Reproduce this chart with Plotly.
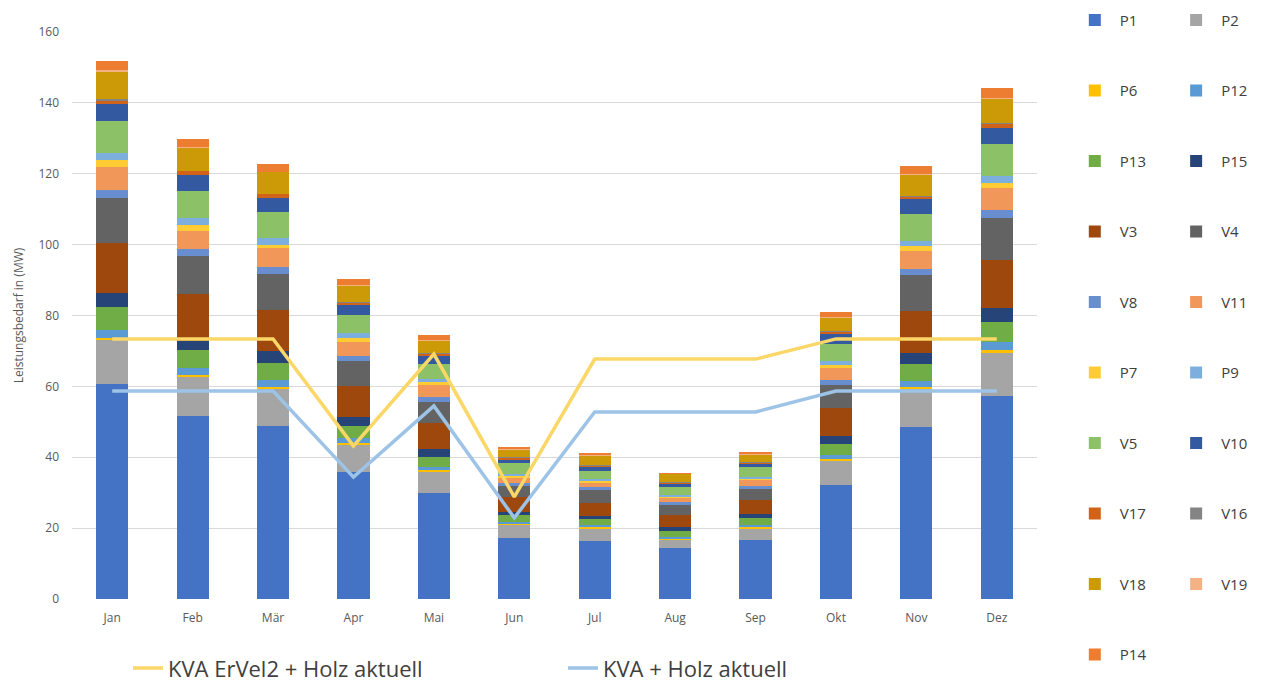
import plotly.graph_objects as go

months = ["Jan", "Feb", "Mär", "Apr", "Mai", "Jun", "Jul", "Aug", "Sep", "Okt", "Nov", "Dez"]

# stacked series, bottom to top
P1  = [60.8, 51.6, 48.8, 35.7, 29.8, 17.1, 16.4, 14.3, 16.6, 32.2, 48.6, 57.4]
P2  = [12.3, 11.0, 10.4, 7.8, 6.0, 3.9, 3.6, 2.5, 3.4, 6.9, 10.6, 12.1]
P6  = [0.5, 0.6, 0.7, 0.6, 0.6, 0.3, 0.2, 0.4, 0.4, 0.3, 0.6, 0.7]
P12 = [2.4, 1.9, 1.9, 1.2, 0.9, 0.5, 0.7, 0.4, 0.5, 1.2, 1.7, 2.3]
P13 = [6.3, 5.2, 4.7, 3.5, 2.9, 1.9, 1.6, 1.7, 1.9, 3.1, 4.7, 5.6]
P15 = [4.0, 2.6, 3.5, 2.6, 2.0, 0.9, 0.9, 0.9, 1.2, 2.3, 3.3, 4.0]
V3  = [14.1, 13.2, 11.5, 8.7, 7.4, 4.3, 3.8, 3.6, 3.9, 7.8, 11.7, 13.5]
V4  = [12.7, 10.7, 10.2, 7.1, 6.1, 3.0, 3.6, 2.8, 3.1, 6.6, 10.1, 12.0]
V8  = [2.4, 2.0, 2.1, 1.5, 1.2, 0.7, 0.7, 0.9, 0.9, 1.4, 1.9, 2.1]
V11 = [6.4, 5.1, 5.2, 3.9, 3.5, 1.6, 1.4, 1.2, 1.7, 3.3, 4.9, 6.4]
P7  = [2.0, 1.6, 0.9, 1.0, 0.7, 0.5, 0.5, 0.3, 0.4, 0.9, 1.4, 1.4]
P9  = [1.9, 1.9, 1.9, 1.4, 0.9, 0.6, 0.6, 0.4, 0.5, 1.2, 1.4, 1.8]
V5  = [9.0, 7.8, 7.3, 5.1, 4.2, 3.0, 2.2, 2.3, 2.7, 4.9, 7.8, 9.0]
V10 = [4.9, 4.4, 4.1, 2.9, 2.4, 1.2, 1.3, 0.9, 1.1, 2.6, 4.1, 4.7]
V17 = [1.1, 1.2, 1.1, 0.6, 0.7, 0.4, 0.3, 0.3, 0.3, 0.7, 0.9, 1.3]
V16 = [0.2, 0.1, 0.1, 0.1, 0.1, 0.1, 0.1, 0.1, 0.1, 0.1, 0.1, 0.1]
V18 = [7.9, 6.5, 6.1, 4.7, 3.5, 2.2, 2.7, 2.3, 2.2, 4.0, 6.0, 6.9]
V19 = [0.3, 0.1, 0.1, 0.1, 0.1, 0.1, 0.1, 0.0, 0.1, 0.1, 0.1, 0.1]
P14 = [2.7, 2.3, 2.2, 1.8, 1.4, 0.7, 0.3, 0.1, 0.6, 1.3, 2.4, 2.8]

kva_ervel2 = [73.4, 73.4, 73.4, 43.2, 69.1, 28.8, 67.7, 67.7, 67.7, 73.4, 73.4, 73.4]
kva_holz   = [58.7, 58.7, 58.7, 34.4, 54.5, 22.9, 52.8, 52.8, 52.8, 58.7, 58.7, 58.7]

series = [
    ("P1", P1, "#4472C4"), ("P2", P2, "#A5A5A5"), ("P6", P6, "#FFC000"),
    ("P12", P12, "#5B9BD5"), ("P13", P13, "#70AD47"), ("P15", P15, "#264478"),
    ("V3", V3, "#9E480E"), ("V4", V4, "#636363"), ("V8", V8, "#698ED0"),
    ("V11", V11, "#F1975A"), ("P7", P7, "#FFCD33"), ("P9", P9, "#7CAFDD"),
    ("V5", V5, "#8CC168"), ("V10", V10, "#335AA1"), ("V17", V17, "#D0621A"),
    ("V16", V16, "#848484"), ("V18", V18, "#CC9A06"), ("V19", V19, "#F4B183"),
    ("P14", P14, "#ED7D31"),
]

FONT = "Open Sans"
fig = go.Figure()
for i, (name, vals, col) in enumerate(series):
    fig.add_trace(go.Bar(
        x=months, y=vals, name=name, marker=dict(color=col, line=dict(width=0)),
        legend="legend" if i % 2 == 0 else "legend2",
        legendgroup=name,
    ))

fig.add_trace(go.Scatter(x=months, y=kva_ervel2, name="KVA ErVel2 + Holz aktuell",
                         mode="lines", line=dict(color="#FAD767", width=3.5),
                         legend="legend3"))
fig.add_trace(go.Scatter(x=months, y=kva_holz, name="KVA + Holz aktuell",
                         mode="lines", line=dict(color="#9DC3E6", width=3.5),
                         legend="legend3"))

leg_common = dict(
    orientation="v", traceorder="grouped", tracegroupgap=48,
    font=dict(family=FONT, size=15, color="#404040"),
    bgcolor="rgba(0,0,0,0)", xanchor="left", yanchor="top", itemwidth=40,
    maxheight=700,
)

fig.update_layout(
    width=1263, height=682,
    margin=dict(l=72, r=226, t=32, b=83, autoexpand=False),
    paper_bgcolor="white", plot_bgcolor="white",
    barmode="stack", bargap=0.6,
    font=dict(family=FONT, color="#595959"),
    showlegend=True,
    legend=dict(x=1.034, y=1.05, **leg_common),
    legend2=dict(x=1.139, y=1.05, **leg_common),
    legend3=dict(orientation="h", x=0.058, y=-0.122, xanchor="left", yanchor="middle",
                 font=dict(family=FONT, size=22, color="#404040"),
                 entrywidth=390, entrywidthmode="pixels",
                 bgcolor="rgba(0,0,0,0)"),
    xaxis=dict(showgrid=False, showline=False, ticks="", ticklabelstandoff=10,
               tickfont=dict(family=FONT, size=12, color="#595959")),
    yaxis=dict(range=[0, 160], dtick=20, showgrid=True, gridcolor="#D9D9D9",
               gridwidth=1, zeroline=False, showline=False, ticks="",
               ticklabelstandoff=12,
               tickfont=dict(family=FONT, size=12, color="#595959"),
               title=dict(text="Leistungsbedarf in (MW)",
                          font=dict(family=FONT, size=12, color="#595959"),
                          standoff=12)),
)

fig.write_html("out.html")
